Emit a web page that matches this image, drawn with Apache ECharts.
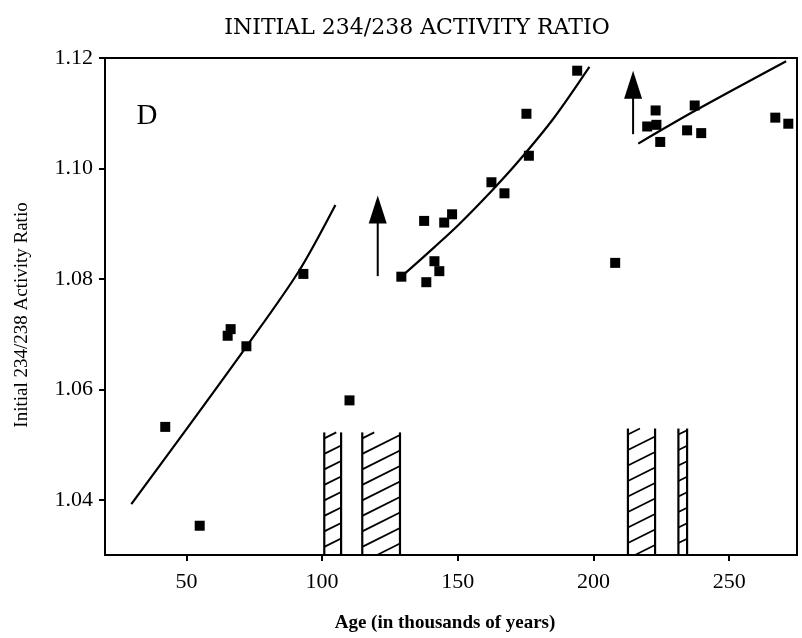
<!DOCTYPE html>
<html>
<head>
<meta charset="utf-8">
<script src="https://cdn.jsdelivr.net/npm/echarts@6/dist/echarts.min.js"></script>
<style>
  html, body { margin: 0; padding: 0; background: #fff; }
  #chart { width: 802px; height: 638px; }
</style>
</head>
<body>
<div id="chart"></div>
<script>
// Axis ticks
const ageTicks = [50, 100, 150, 200, 250];
const ratioTicks = [1.04, 1.06, 1.08, 1.10, 1.12];

// Measured samples: age (ka) and initial 234U/238U activity ratio
const sampleAge = [42.2, 54.9, 65.2, 66.3, 72.1, 93.1, 110.1, 129.2, 137.6, 138.4, 141.4, 143.2, 145.0, 147.9,
  162.4, 167.2, 175.3, 176.2, 194.0, 208.0, 219.8, 222.9, 223.2, 224.6, 234.5, 237.3, 239.7, 267.0, 271.8];
const sampleRatio = [1.0532, 1.0353, 1.0697, 1.0709, 1.0678, 1.0809, 1.0580, 1.0804, 1.0905, 1.0794, 1.0832, 1.0814, 1.0902, 1.0917,
  1.0975, 1.0955, 1.1099, 1.1023, 1.1177, 1.0829, 1.1076, 1.1105, 1.1079, 1.1048, 1.1069, 1.1114, 1.1064, 1.1092, 1.1081];

// Trend curves through the three age groups
const trendAAge = [29.7, 49.9, 72.5, 91.3, 104.9];
const trendARatio = [1.0392, 1.0527, 1.0680, 1.0813, 1.0934];
const trendBAge = [129.2, 141.5, 150.5, 162.8, 172.2, 185.2, 198.5];
const trendBRatio = [1.0804, 1.0858, 1.0899, 1.0961, 1.1012, 1.1090, 1.1184];
const trendCAge = [216.5, 236.9, 271.0];
const trendCRatio = [1.1045, 1.1103, 1.1194];

// Upward arrows: age, tail ratio, tip ratio
const arrowAge = [120.5, 214.6];
const arrowTail = [1.0805, 1.1062];
const arrowTip = [1.0951, 1.1177];

// Hatched intervals: start age, end age, top ratio
const bandStart = [100.8, 114.8, 212.7, 231.3];
const bandEnd = [107.0, 128.7, 222.7, 234.5];
const bandTop = [1.0522, 1.0522, 1.0529, 1.0529];

const AXIS_MIN = 1.03;
const zip = (a, b) => a.map((v, i) => [v, b[i]]);

const serif = '"Liberation Serif", "DejaVu Serif", serif';
const wideSerif = '"DejaVu Serif", "Liberation Serif", serif';

const chart = echarts.init(document.getElementById('chart'), null, { renderer: 'canvas' });

// Open-topped box with diagonal hatching, standing on the age axis
function renderBand(params, api) {
  const pTL = api.coord([api.value(0), api.value(2)]);
  const pBR = api.coord([api.value(1), AXIS_MIN]);
  const x0 = pTL[0], y0 = pTL[1], x1 = pBR[0], y1 = pBR[1];
  const w = x1 - x0;
  const s = 0.5, step = 15.5;
  const side = { stroke: '#000', lineWidth: 2.2 };
  const hatch = { stroke: '#000', lineWidth: 1.8 };
  const children = [
    { type: 'line', shape: { x1: x0, y1: y0, x2: x0, y2: y1 }, style: side },
    { type: 'line', shape: { x1: x1, y1: y0, x2: x1, y2: y1 }, style: side }
  ];
  for (let b = y0 + 6; b < y1 + s * w; b += step) {
    const xa = Math.max(x0, x0 + (b - y1) / s);
    const xb = Math.min(x1, x0 + (b - y0) / s);
    if (xb > xa) {
      children.push({
        type: 'line',
        shape: { x1: xa, y1: b - s * (xa - x0), x2: xb, y2: b - s * (xb - x0) },
        style: hatch
      });
    }
  }
  return { type: 'group', children };
}

// Arrow from tail value to tip value with a solid triangular head
function renderArrow(params, api) {
  const p0 = api.coord([api.value(0), api.value(1)]);
  const p1 = api.coord([api.value(0), api.value(2)]);
  const dx = p1[0] - p0[0], dy = p1[1] - p0[1];
  const len = Math.sqrt(dx * dx + dy * dy) || 1;
  const ux = dx / len, uy = dy / len;
  const headLen = 28, headHalf = 9;
  const bx = p1[0] - ux * headLen, by = p1[1] - uy * headLen;
  return {
    type: 'group',
    children: [
      { type: 'line', shape: { x1: p0[0], y1: p0[1], x2: bx + ux, y2: by + uy }, style: { stroke: '#000', lineWidth: 2 } },
      {
        type: 'polygon',
        shape: { points: [[p1[0], p1[1]], [bx - uy * headHalf, by + ux * headHalf], [bx + uy * headHalf, by - ux * headHalf]] },
        style: { fill: '#000' }
      }
    ]
  };
}

const trendStyle = { color: '#000', width: 2.2 };

chart.setOption({
  animation: false,
  backgroundColor: '#fff',
  grid: { left: 105, right: 5, top: 58, bottom: 83, show: true, borderColor: '#000', borderWidth: 2 },
  xAxis: {
    type: 'value', min: 20, max: 275,
    axisLine: { lineStyle: { color: '#000', width: 2 } },
    axisTick: { show: true, length: 6, customValues: ageTicks, lineStyle: { color: '#000', width: 2 } },
    axisLabel: { customValues: ageTicks, color: '#000', fontFamily: serif, fontSize: 22, margin: 16 },
    splitLine: { show: false }
  },
  yAxis: {
    type: 'value', min: AXIS_MIN, max: 1.12,
    axisLine: { show: true, lineStyle: { color: '#000', width: 2 } },
    axisTick: { show: true, length: 6, customValues: ratioTicks, lineStyle: { color: '#000', width: 2 } },
    axisLabel: {
      customValues: ratioTicks, color: '#000', fontFamily: serif, fontSize: 22, margin: 12,
      formatter: v => v.toFixed(2)
    },
    splitLine: { show: false }
  },
  graphic: [
    { type: 'text', x: 417, y: 28, style: { text: 'INITIAL 234/238 ACTIVITY RATIO', font: '22px ' + wideSerif, fill: '#000', align: 'center', verticalAlign: 'middle' } },
    { type: 'text', x: 445, y: 623, style: { text: 'Age (in thousands of years)', font: 'bold 19px ' + serif, fill: '#000', align: 'center', verticalAlign: 'middle' } },
    { type: 'text', x: 22, y: 315, rotation: Math.PI / 2, style: { text: 'Initial 234/238 Activity Ratio', font: '19px ' + serif, fill: '#000', align: 'center', verticalAlign: 'middle' } },
    { type: 'text', x: 147, y: 116, style: { text: 'D', font: '29px ' + serif, fill: '#000', align: 'center', verticalAlign: 'middle' } }
  ],
  series: [
    {
      type: 'custom', name: 'bands', renderItem: renderBand,
      encode: { x: [0, 1], y: 2 },
      data: bandStart.map((v, i) => [v, bandEnd[i], bandTop[i]]),
      silent: true, z: 1
    },
    { type: 'line', data: zip(trendAAge, trendARatio), smooth: 0.3, showSymbol: false, lineStyle: trendStyle, z: 2 },
    { type: 'line', data: zip(trendBAge, trendBRatio), smooth: 0.3, showSymbol: false, lineStyle: trendStyle, z: 2 },
    { type: 'line', data: zip(trendCAge, trendCRatio), smooth: 0.3, showSymbol: false, lineStyle: trendStyle, z: 2 },
    {
      type: 'custom', name: 'arrows', renderItem: renderArrow,
      encode: { x: 0, y: [1, 2] },
      data: arrowAge.map((a, i) => [a, arrowTail[i], arrowTip[i]]),
      silent: true, z: 2
    },
    {
      type: 'scatter', data: zip(sampleAge, sampleRatio),
      symbol: 'rect', symbolSize: 10, itemStyle: { color: '#000', opacity: 1 }, z: 3
    }
  ]
});
</script>
</body>
</html>
